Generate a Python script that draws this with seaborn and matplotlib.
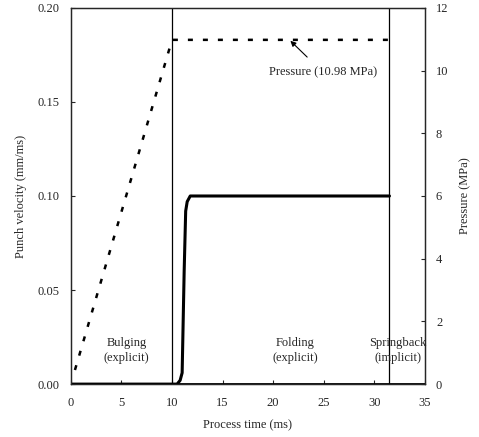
import matplotlib
matplotlib.use("Agg")
import matplotlib.pyplot as plt
import seaborn as sns
import pandas as pd

# Data
vel_t = [0.0, 10.5, 10.8, 11.0, 11.2, 11.35, 11.5, 11.8, 12.0, 31.5]
vel_v = [0.0, 0.0, 0.002, 0.006, 0.06, 0.092, 0.097, 0.1, 0.1, 0.1]
pres_t = [0.4, 10.0, 31.5]
pres_p = [0.45, 10.98, 10.98]
phase_lines = [10.0, 31.5]
phase_labels = ["Bulging\n(explicit)", "Folding\n(explicit)", "Springback\n(implicit)"]
phase_label_x = [5.5, 22.2, 32.3]
x_ticks = [0, 5, 10, 15, 20, 25, 30, 35]
left_ticks = [0.00, 0.05, 0.10, 0.15, 0.20]
right_ticks = [0, 2, 4, 6, 8, 10, 12]

sns.set_style("ticks")
plt.rcParams['font.family'] = ['Liberation Serif', 'DejaVu Serif']
plt.rcParams['font.size'] = 9

fig = plt.figure(figsize=(4.79, 4.37), dpi=100)
ax = fig.add_axes([0.148, 0.121, 0.739, 0.861])
ax2 = ax.twinx()

vel_df = pd.DataFrame({"t": vel_t, "v": vel_v})
pres_df = pd.DataFrame({"t": pres_t, "p": pres_p})

sns.lineplot(data=vel_df, x="t", y="v", ax=ax, color="black", linewidth=2.2, estimator=None, sort=False)
sns.lineplot(data=pres_df, x="t", y="p", ax=ax2, color="black", linewidth=1.8,
             linestyle=(0, (2, 4)), estimator=None, sort=False)

ax.axhline(0, color="black", linewidth=2.0, zorder=5)
for xl in phase_lines:
    ax.axvline(xl, color="black", linewidth=0.9)

ax.set_xlim(0, 35)
ax.set_ylim(0, 0.20)
ax2.set_ylim(0, 12)
ax.set_xticks(x_ticks)
ax.set_yticks(left_ticks)
ax.set_yticklabels([f"{v:.2f}" for v in left_ticks])
ax2.set_yticks(right_ticks)
ax.tick_params(direction="in", length=3, width=0.8, pad=8)
ax2.tick_params(direction="in", length=3, width=0.8, pad=8)
ax.tick_params(axis="x", pad=9)

ax.set_xlabel("Process time (ms)", labelpad=8)
ax.set_ylabel("Punch velocity (mm/ms)", labelpad=8)
ax2.set_ylabel("Pressure (MPa)", labelpad=8)

for sp in list(ax.spines.values()) + list(ax2.spines.values()):
    sp.set_linewidth(0.9)
    sp.set_visible(True)

for lab, xp in zip(phase_labels, phase_label_x):
    ax.text(xp, 0.018, lab, ha="center", va="center", fontsize=9, linespacing=1.3)

ax2.annotate("Pressure (10.98 MPa)", xy=(21.7, 10.95), xytext=(24.9, 9.95),
             ha="center", va="center", fontsize=9,
             arrowprops=dict(arrowstyle="-|>", color="black", lw=0.8,
                             shrinkA=6, shrinkB=0, mutation_scale=8))

fig.savefig("out.png", dpi=100)
